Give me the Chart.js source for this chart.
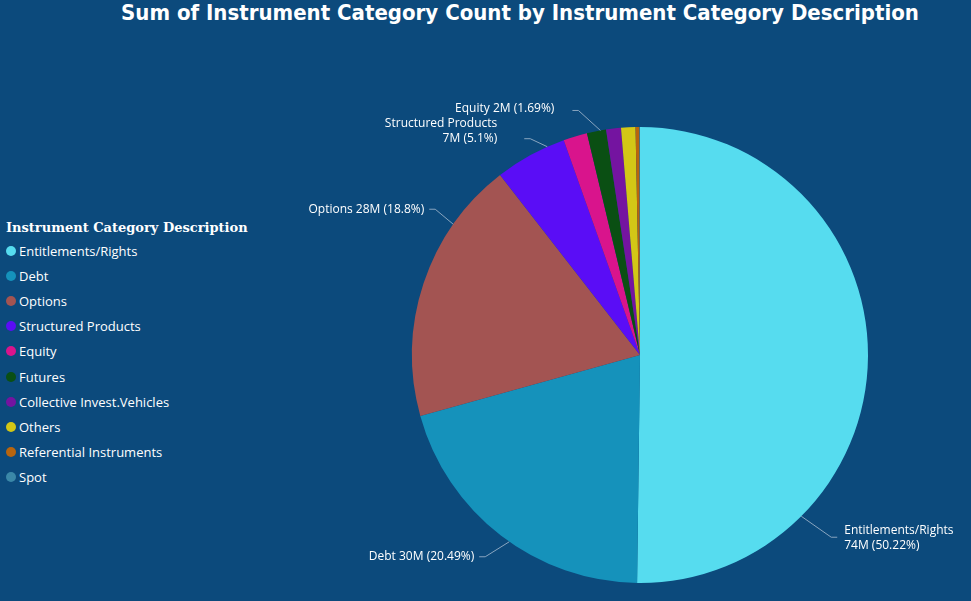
<!DOCTYPE html>
<html><head><meta charset="utf-8">
<script src="https://cdn.jsdelivr.net/npm/chart.js@4"></script>
<style>
body{margin:0;background:#0C4A7C;width:971px;height:601px;overflow:hidden;font-family:"Open Sans",sans-serif}
#t{position:absolute;top:0;left:0;width:1040px;text-align:center;color:#fff;font:bold 22px "DejaVu Sans Condensed","Liberation Sans Narrow",sans-serif;line-height:26px}
#lg{position:absolute;left:6px;top:220px;color:#fff;font-size:13px}
#lg .h{font-weight:bold;font-family:"DejaVu Serif",serif;font-size:13px;margin-bottom:3px}
#lg .i{height:25.2px;display:flex;align-items:center}
#lg .d{width:10px;height:10px;border-radius:50%;margin-right:3px}
canvas{position:absolute;left:0;top:0}
</style></head><body>
<div id="t">Sum of Instrument Category Count by Instrument Category Description</div>
<div id="lg"></div>
<canvas id="c" width="971" height="601"></canvas>
<script>
const categories=["Entitlements/Rights","Debt","Options","Structured Products","Equity","Futures","Collective Invest.Vehicles","Others","Referential Instruments","Spot"];
const valuesM=[74.0,30.2,27.7,7.5,2.49,2.0,1.55,1.5,0.4,0.06];
const colors=["#56DCEF","#1592BB","#A35452","#5A0DF6","#D9148C","#0A4F13","#7414A0","#D3C716","#B8650E","#3B88A8"];
const sliceLabels=[["Entitlements/Rights","74M (50.22%)"],["Debt 30M (20.49%)"],["Options 28M (18.8%)"],["Structured Products","7M (5.1%)"],["Equity 2M (1.69%)"]];
// leader start angle (deg from top, clockwise), elbow offset, text side
const labelGeom=[[135,[30,21],"left",[7,-7]],[215,[-24,15],"right",[-5,0]],[305,[-18,-15],"right",[-5,0]],[336,[-17,-8],"right",[-27,-15]],[350,[-22,-20],"right",[-18,-2]]];
const lg=document.getElementById('lg');
lg.innerHTML='<div class="h">Instrument Category Description</div>'+categories.map((c,i)=>`<div class="i"><span class="d" style="background:${colors[i]}"></span>${c}</div>`).join('');
const labelPlugin={id:'lbl',afterDraw(ch){
 const ctx=ch.ctx,a=ch.getDatasetMeta(0).data[0];const cx=a.x,cy=a.y,r=a.outerRadius;
 ctx.save();ctx.font='12px "Open Sans"';ctx.fillStyle='#fff';ctx.strokeStyle='#8aa6c0';ctx.lineWidth=1;
 sliceLabels.forEach((lines,i)=>{const g=labelGeom[i],ang=g[0]*Math.PI/180;
  const sx=cx+r*Math.sin(ang),sy=cy-r*Math.cos(ang),ex=sx+g[1][0],ey=sy+g[1][1];
  const hx=ex+(g[2]=="left"?6:-6);
  ctx.beginPath();ctx.moveTo(sx,sy);ctx.lineTo(ex,ey);ctx.lineTo(hx,ey);ctx.stroke();
  ctx.textAlign=g[2];ctx.textBaseline='middle';
  lines.forEach((t,k)=>ctx.fillText(t,hx+g[3][0],ey+g[3][1]+k*15));});
 ctx.restore();}};
new Chart(document.getElementById('c'),{type:'pie',
 data:{labels:categories,datasets:[{data:valuesM,backgroundColor:colors,borderWidth:0}]},
 options:{responsive:false,animation:false,layout:{padding:{top:127,bottom:18,left:412,right:103}},
  plugins:{legend:{display:false},tooltip:{enabled:false}}},plugins:[labelPlugin]});
</script></body></html>
